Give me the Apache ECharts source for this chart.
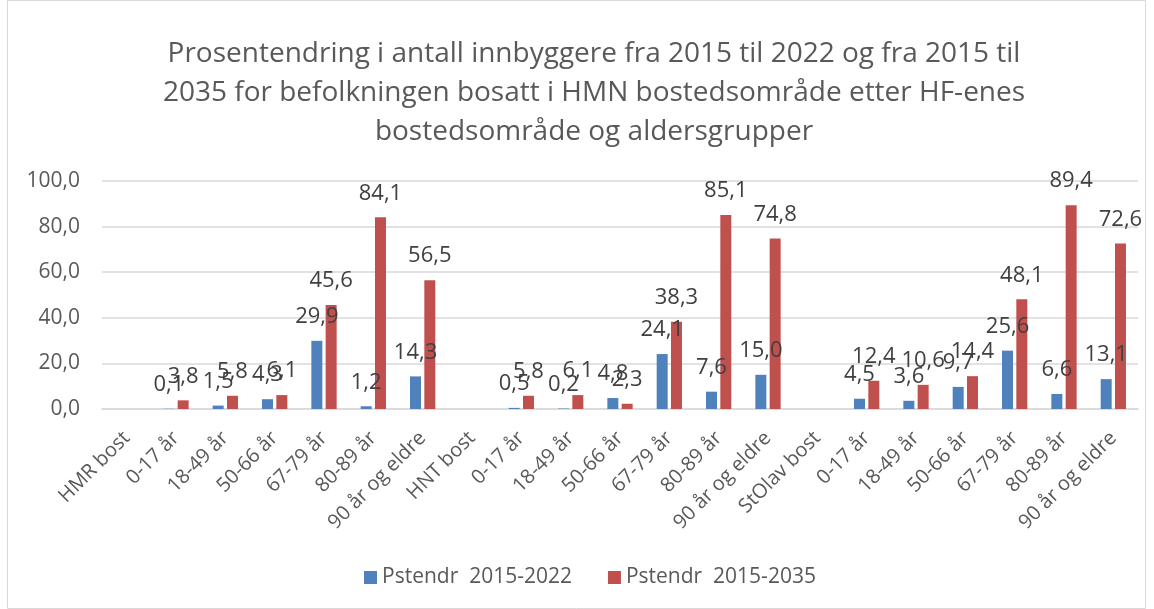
<!DOCTYPE html>
<html>
<head>
<meta charset="utf-8">
<script src="https://cdn.jsdelivr.net/npm/echarts@6/dist/echarts.min.js"></script>
<style>
html,body{margin:0;padding:0;background:#fff;}
#chart{width:1154px;height:609px;}
</style>
</head>
<body>
<div id="chart"></div>
<script>
var categories = ['HMR bost','0-17 år','18-49 år','50-66 år','67-79 år','80-89 år','90 år og eldre',
	'HNT bost','0-17 år','18-49 år','50-66 år','67-79 år','80-89 år','90 år og eldre',
	'StOlav bost','0-17 år','18-49 år','50-66 år','67-79 år','80-89 år','90 år og eldre'];
var pst2022 = ['-',0.1,1.5,4.3,29.9,1.2,14.3, '-',0.5,0.2,4.8,24.1,7.6,15.0, '-',4.5,3.6,9.7,25.6,6.6,13.1];
var pst2035 = ['-',3.8,5.8,6.1,45.6,84.1,56.5, '-',5.8,6.1,2.3,38.3,85.1,74.8, '-',12.4,10.6,14.4,48.1,89.4,72.6];
var yTicks = [0,20,40,60,80,100];

var font = 'Open Sans';
var chartDom = document.getElementById('chart');
var myChart = echarts.init(chartDom);
function komma(v){
	return Number(v).toFixed(1).replace('.', ',');
}
var barLabel = {
	show: true,
	position: 'top',
	distance: 13,
	color: '#404040',
	fontFamily: font,
	fontSize: 22,
	formatter: function(p){ return komma(p.value); }
};
myChart.setOption({
	animation: false,
	textStyle: {fontFamily: font},
	title: {
		text: 'Prosentendring i antall innbyggere fra 2015 til 2022 og fra 2015 til\n2035 for befolkningen bosatt i HMN bostedsområde etter HF-enes\nbostedsområde og aldersgrupper',
		left: 589,
		textAlign: 'center',
		top: 30,
		textStyle: {
			fontFamily: font,
			fontSize: 28,
			fontWeight: 'normal',
			color: '#595959',
			lineHeight: 39
		}
	},
	legend: {
		bottom: 16,
		left: 359,
		itemWidth: 13,
		itemHeight: 13,
		itemGap: 36,
		itemStyle: {borderWidth: 0},
		icon: 'rect',
		textStyle: {fontFamily: font, fontSize: 21, color: '#595959'},
		data: ['Pstendr  2015-2022','Pstendr  2015-2035']
	},
	grid: {
		left: 102,
		right: 16,
		top: 181,
		bottom: 200,
		containLabel: false
	},
	xAxis: {
		type: 'category',
		data: categories,
		axisLine: {lineStyle: {color: '#d9d9d9', width: 1.5}},
		axisTick: {show: false},
		axisLabel: {
			interval: 0,
			rotate: 45,
			margin: 26,
			color: '#595959',
			fontFamily: font,
			fontSize: 20
		}
	},
	yAxis: {
		type: 'value',
		min: yTicks[0],
		max: yTicks[yTicks.length - 1],
		interval: 20,
		axisLine: {show: false},
		axisTick: {show: false},
		splitLine: {lineStyle: {color: '#d9d9d9', width: 1.5}},
		axisLabel: {
			margin: 22,
			color: '#595959',
			fontFamily: font,
			fontSize: 21,
			formatter: function(v){ return komma(v); }
		}
	},
	series: [
		{
			name: 'Pstendr  2015-2022',
			type: 'bar',
			barWidth: 11,
			barGap: '30%',
			itemStyle: {color: '#4f81bd'},
			label: barLabel,
			data: pst2022
		},
		{
			name: 'Pstendr  2015-2035',
			type: 'bar',
			barWidth: 11,
			barGap: '30%',
			itemStyle: {color: '#c0504d'},
			label: barLabel,
			data: pst2035
		}
	],
	graphic: [{
		type: 'rect',
		shape: {x: 7.5, y: 0.5, width: 1138, height: 608},
		style: {fill: 'none', stroke: '#d9d9d9', lineWidth: 1},
		silent: true
	}]
});
window.addEventListener("resize", function () {
	myChart.resize();
});
</script>
</body>
</html>
